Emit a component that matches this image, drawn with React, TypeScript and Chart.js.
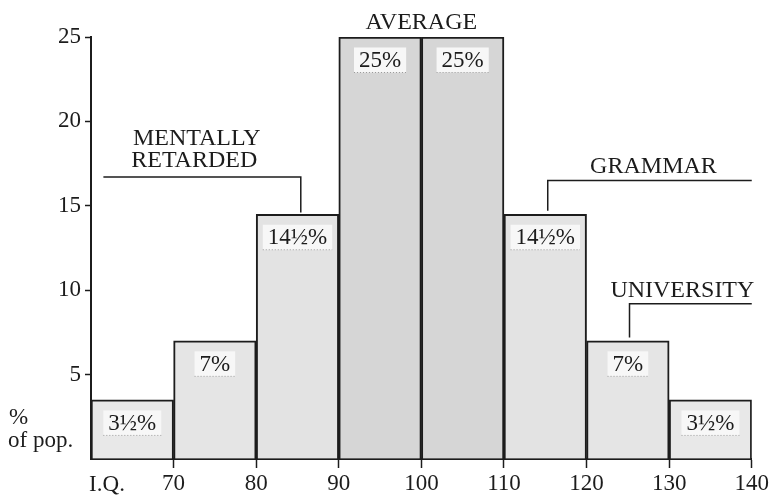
import React, { useEffect, useRef } from "react";
import { Chart, registerables } from "chart.js";

Chart.register(...registerables);

const binCenters = [65, 75, 85, 95, 105, 115, 125, 135];
const percentages = [3.5, 7, 14.5, 25, 25, 14.5, 7, 3.5];
const barLabels = ["3½%", "7%", "14½%", "25%", "25%", "14½%", "7%", "3½%"];
const barFills = ["#e8e8e8", "#e5e5e5", "#e3e3e3", "#d6d6d6", "#d6d6d6", "#e3e3e3", "#e5e5e5", "#e8e8e8"];
const xTicks = [60, 70, 80, 90, 100, 110, 120, 130, 140];
const yTicks = [0, 5, 10, 15, 20, 25];

const FONT = '"Liberation Serif", "DejaVu Serif", serif';
const INK = "#1c1c1c";

const overlay = {
  id: "overlay",
  afterDatasetsDraw(chart: any) {
    const ctx = chart.ctx;
    const xs = chart.scales.x;
    const ys = chart.scales.y;
    const meta = chart.getDatasetMeta(0);
    ctx.save();
    ctx.font = `23px ${FONT}`;
    ctx.textAlign = "center";
    ctx.textBaseline = "middle";
    meta.data.forEach((bar: any, i: number) => {
      const t = barLabels[i];
      const w = ctx.measureText(t).width + 10;
      const cy = bar.y + 23;
      const h = 25;
      ctx.fillStyle = "#f7f7f7";
      ctx.fillRect(bar.x - w / 2, cy - h / 2, w, h);
      ctx.strokeStyle = "#9a9a9a";
      ctx.lineWidth = 1;
      ctx.setLineDash([1, 2]);
      ctx.beginPath();
      ctx.moveTo(bar.x - w / 2, cy + h / 2);
      ctx.lineTo(bar.x + w / 2, cy + h / 2);
      ctx.stroke();
      ctx.setLineDash([]);
      ctx.fillStyle = INK;
      ctx.fillText(t, bar.x, cy + 1);
    });

    ctx.fillStyle = INK;
    ctx.font = `24px ${FONT}`;
    const px = (v: number) => xs.getPixelForValue(v);
    const py = (v: number) => ys.getPixelForValue(v);
    ctx.fillText("AVERAGE", px(100), py(25) - 14);
    ctx.fillText("MENTALLY", px(72.8), py(19.0));
    ctx.fillText("RETARDED", px(72.5), py(17.65));
    ctx.fillText("GRAMMAR", px(128.1), py(17.3));
    ctx.fillText("UNIVERSITY", px(131.6), py(9.95));

    ctx.strokeStyle = INK;
    ctx.lineWidth = 1.5;
    ctx.beginPath();
    ctx.moveTo(px(61.5), py(16.7));
    ctx.lineTo(px(85.4), py(16.7));
    ctx.lineTo(px(85.4), py(14.6));
    ctx.moveTo(px(140), py(16.5));
    ctx.lineTo(px(115.3), py(16.5));
    ctx.lineTo(px(115.3), py(14.7));
    ctx.moveTo(px(140), py(9.2));
    ctx.lineTo(px(125.2), py(9.2));
    ctx.lineTo(px(125.2), py(7.2));
    ctx.stroke();

    ctx.font = `23px ${FONT}`;
    ctx.textAlign = "left";
    ctx.fillText("%", 9, 418);
    ctx.fillText("of pop.", 8, 441);
    ctx.textAlign = "center";
    ctx.fillText("I.Q.", 107, 485);
    ctx.restore();
  },
};

export default function App() {
  const ref = useRef<HTMLCanvasElement>(null);
  useEffect(() => {
    const chart = new Chart(ref.current as HTMLCanvasElement, {
      type: "bar",
      data: {
        datasets: [
          {
            data: binCenters.map((x, i) => ({ x, y: percentages[i] })),
            backgroundColor: barFills,
            borderColor: INK,
            borderWidth: 2,
            barPercentage: 1,
            categoryPercentage: 1,
          },
        ],
      },
      options: {
        animation: false,
        responsive: false,
        maintainAspectRatio: false,
        layout: { padding: { top: 37, right: 19, left: 0, bottom: 0 } },
        plugins: { legend: { display: false }, tooltip: { enabled: false } },
        scales: {
          x: {
            type: "linear",
            min: 60,
            max: 140,
            offset: false,
            afterBuildTicks: (s: any) => {
              s.ticks = xTicks.map((v) => ({ value: v }));
            },
            afterFit: (s: any) => {
              s.height = 36;
            },
            ticks: {
              callback: (v: any) => (v === 60 ? "" : String(v)),
              font: { family: FONT, size: 23 },
              color: INK,
              padding: 2,
              maxRotation: 0,
              autoSkip: false,
            },
            grid: {
              offset: false,
              drawOnChartArea: false,
              drawTicks: true,
              tickLength: 9,
              tickWidth: 1.5,
              tickColor: (c: any) => (c.tick && c.tick.value === 60 ? "rgba(0,0,0,0)" : INK),
            },
            border: { display: true, color: INK, width: 2 },
          },
          y: {
            type: "linear",
            min: 0,
            max: 25,
            afterBuildTicks: (s: any) => {
              s.ticks = yTicks.map((v) => ({ value: v }));
            },
            afterFit: (s: any) => {
              s.width = 91;
            },
            ticks: {
              callback: (v: any) => (v === 0 ? "" : String(v)),
              font: { family: FONT, size: 23 },
              color: INK,
              padding: 4,
            },
            grid: {
              drawOnChartArea: false,
              drawTicks: true,
              tickLength: 6,
              tickWidth: 1.5,
              tickColor: (c: any) => (c.tick && c.tick.value === 0 ? "rgba(0,0,0,0)" : INK),
            },
            border: { display: true, color: INK, width: 2 },
          },
        },
      },
      plugins: [overlay],
    } as any);
    return () => chart.destroy();
  }, []);
  return (
    <div style={{ position: "fixed", left: 0, top: 0, width: 771, height: 495, background: "#fff" }}>
      <canvas ref={ref} width={771} height={495} style={{ display: "block", width: 771, height: 495 }} />
    </div>
  );
}
